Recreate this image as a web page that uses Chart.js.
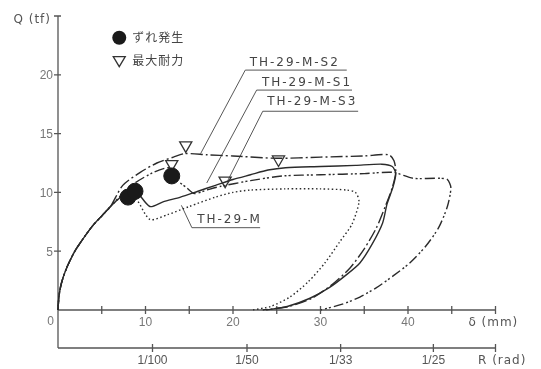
<!DOCTYPE html>
<html lang="ja">
<head>
    <meta charset="UTF-8">
    <title>TH-29-M  Q - δ</title>
    <script src="https://cdn.jsdelivr.net/npm/chart.js"></script>
    <style>
        body { margin: 0; background: #fff; }
    </style>
</head>
<body>
    <canvas id="myChart" width="541" height="369"></canvas>

    <script>
        // common envelope of all specimens, delta (mm) / Q (tf)
        const envDelta = [0, 0.1, 0.3, 0.6, 1, 1.5, 2, 3, 4, 5, 6];
        const envQ     = [0, 1.1, 2.0, 2.8, 3.6, 4.4, 5.1, 6.2, 7.2, 8.0, 8.8];

        // TH-29-M (dotted)
        const mDelta = [7, 8, 9, 10.5, 12.5, 15, 18, 20, 22, 26, 30, 33, 34, 34.4, 33.6, 32.2, 30.5, 28.6, 26.5, 24.3, 22.2];
        const mQ     = [9.5, 10.0, 9.4, 7.7, 8.1, 8.8, 9.6, 10.0, 10.2, 10.3, 10.3, 10.2, 10.0, 9.2, 7.3, 5.8, 4.0, 2.4, 1.1, 0.3, 0];

        // TH-29-M-S1 (solid)
        const s1Delta = [7, 8, 8.8, 10.5, 12, 14, 16, 18, 20, 22, 24, 26, 30, 34, 37, 38.2, 38.6, 38.3, 37.6, 37.1, 35.9, 34.5, 32.8, 31.0, 28.8, 26.2, 23.8];
        const s1Q     = [9.5, 10.0, 10.2, 8.8, 9.2, 9.6, 10.1, 10.6, 11.1, 11.5, 11.9, 12.1, 12.2, 12.3, 12.4, 12.2, 11.6, 10.5, 9.0, 7.4, 5.6, 4.0, 2.9, 1.9, 1.0, 0.3, 0];

        // TH-29-M-S2 (dash-dot, upper)
        const s2Delta = [7.4, 9.4, 11.3, 13.2, 14.5, 17, 20, 25, 30, 35, 37.8, 38.4, 38.6, 38.2, 37.4, 36.4, 35.0, 33.4, 31.4, 29.0, 26.4, 23.4];
        const s2Q     = [10.6, 11.7, 12.5, 13.0, 13.3, 13.2, 13.1, 12.9, 13.0, 13.1, 13.2, 12.7, 11.7, 10.4, 8.8, 7.0, 5.2, 3.6, 2.2, 1.0, 0.3, 0];

        // TH-29-M-S3 (dash-dot, lower)
        const s3Delta = [7, 8.6, 10.9, 12.8, 13.2, 14.7, 15.6, 17, 18.5, 22, 25.7, 30, 35, 38.3, 40.6, 43.7, 44.5, 44.9, 44.5, 43.5, 42, 40.2, 38.3, 36.4, 34.5, 32.5, 30];
        const s3Q     = [9.6, 10.7, 11.7, 12.1, 11.3, 10.4, 9.9, 10.2, 10.5, 11.0, 11.4, 11.5, 11.6, 11.7, 11.2, 11.2, 11.1, 10.4, 8.8, 7.0, 5.4, 4.0, 2.9, 1.9, 1.1, 0.5, 0];

        // ずれ発生 (filled circles) and 最大耐力 (triangles)
        const slipDelta = [8.0, 8.8, 13.0];
        const slipQ     = [9.6, 10.1, 11.4];
        const maxDelta  = [14.6, 13.0, 19.1, 25.2];
        const maxQ      = [14.0, 12.4, 11.0, 12.8];

        // axes
        const yTickValues = [5, 10, 15, 20];
        const yTickMarks  = [5, 10, 15, 20, 25];
        const xTickValues = [10, 20, 30, 40];
        const xTickMarks  = [5, 10, 15, 20, 25, 30, 35, 40, 45, 50];
        const rLabels     = ['1/100', '1/50', '1/33', '1/25'];
        const rDelta      = [10.8, 21.6, 32.3, 42.9];

        function pts(d, q) {
            return d.map((v, i) => ({ x: v, y: q[i] }));
        }
        function withEnv(d, q) {
            return pts(envDelta.concat(d), envQ.concat(q));
        }

        // specimen callouts, in data units
        const callouts = [
            { text: 'TH-29-M-S2', tx: 21.9, ty: 21.0, ux0: 21.4, ux1: 33.0, uy: 20.4, ex: 16.3, ey: 13.3 },
            { text: 'TH-29-M-S1', tx: 23.3, ty: 19.3, ux0: 22.7, ux1: 33.6, uy: 18.7, ex: 17.0, ey: 10.8 },
            { text: 'TH-29-M-S3', tx: 23.9, ty: 17.7, ux0: 23.4, ux1: 34.3, uy: 16.9, ex: 19.4, ey: 11.0 },
            { text: 'TH-29-M',    tx: 15.9, ty: 7.7,  ux0: 15.3, ux1: 23.1, uy: 7.0,  ex: 14.1, ey: 8.9 }
        ];

        const paperAxes = {
            id: 'paperAxes',
            beforeDatasetsDraw(chart) {
                const { ctx, scales: { x, y } } = chart;
                const x0 = x.getPixelForValue(0), xEnd = x.getPixelForValue(50);
                const y0 = y.getPixelForValue(0), yTop = y.getPixelForValue(25);
                const yR = y0 + 38;
                ctx.save();
                ctx.strokeStyle = '#555';
                ctx.lineWidth = 1.3;
                ctx.beginPath();
                ctx.moveTo(x0, yTop); ctx.lineTo(x0, yR);
                ctx.moveTo(x0, y0); ctx.lineTo(xEnd, y0);
                ctx.moveTo(x0, yR); ctx.lineTo(xEnd, yR);
                yTickMarks.forEach(q => {
                    const p = y.getPixelForValue(q);
                    ctx.moveTo(x0 - 4, p); ctx.lineTo(x0 + 3, p);
                });
                xTickMarks.forEach(d => {
                    const p = x.getPixelForValue(d);
                    ctx.moveTo(p, y0 - 4); ctx.lineTo(p, y0 + 4);
                });
                rDelta.concat([50]).forEach(d => {
                    const p = x.getPixelForValue(d);
                    ctx.moveTo(p, yR - 4); ctx.lineTo(p, yR + 4);
                });
                ctx.stroke();

                // callout leaders
                ctx.strokeStyle = '#444';
                ctx.lineWidth = 0.9;
                ctx.beginPath();
                callouts.forEach(c => {
                    const uy = y.getPixelForValue(c.uy);
                    ctx.moveTo(x.getPixelForValue(c.ux1), uy);
                    ctx.lineTo(x.getPixelForValue(c.ux0), uy);
                    ctx.lineTo(x.getPixelForValue(c.ex), y.getPixelForValue(c.ey));
                });
                ctx.stroke();
                ctx.restore();
            },
            afterDraw(chart) {
                const { ctx, scales: { x, y } } = chart;
                const x0 = x.getPixelForValue(0);
                const y0 = y.getPixelForValue(0), yTop = y.getPixelForValue(25);
                const yR = y0 + 38;
                ctx.save();
                ctx.textBaseline = 'middle';

                // axis numbers
                ctx.fillStyle = '#777';
                ctx.font = '12px "Liberation Sans", sans-serif';
                ctx.textAlign = 'right';
                yTickValues.forEach(q => ctx.fillText(String(q), x0 - 5, y.getPixelForValue(q) + 1));
                ctx.fillText('0', x0 - 4, y0 + 12);
                ctx.textAlign = 'center';
                xTickValues.forEach(d => ctx.fillText(String(d), x.getPixelForValue(d), y0 + 13));
                ctx.fillStyle = '#555';
                rLabels.forEach((t, i) => ctx.fillText(t, x.getPixelForValue(rDelta[i]), yR + 13));

                // axis titles
                ctx.fillStyle = '#555';
                ctx.textAlign = 'left';
                ctx.font = '12px "DejaVu Sans", sans-serif';
                ctx.letterSpacing = '1px';
                ctx.fillText('δ (mm)', x.getPixelForValue(46.9), y0 + 13);
                ctx.fillText('R (rad)', x.getPixelForValue(48.0), yR + 13);
                ctx.textAlign = 'right';
                ctx.fillText('Q (tf)', x0 - 7, yTop + 4);

                // callout texts
                ctx.fillStyle = '#444';
                ctx.textAlign = 'left';
                ctx.letterSpacing = '2px';
                callouts.forEach(c => ctx.fillText(c.text, x.getPixelForValue(c.tx), y.getPixelForValue(c.ty)));

                // legend
                ctx.letterSpacing = '1px';
                ctx.font = '12px "Noto Sans CJK JP", sans-serif';
                const lx = x.getPixelForValue(7.0);
                const ly1 = y.getPixelForValue(23.15), ly2 = y.getPixelForValue(21.2);
                ctx.fillStyle = '#1a1a1a';
                ctx.beginPath();
                ctx.arc(lx, ly1, 7, 0, Math.PI * 2);
                ctx.fill();
                ctx.strokeStyle = '#333';
                ctx.lineWidth = 1.3;
                ctx.beginPath();
                ctx.moveTo(lx - 6, ly2 - 4);
                ctx.lineTo(lx + 6, ly2 - 4);
                ctx.lineTo(lx, ly2 + 6);
                ctx.closePath();
                ctx.stroke();
                ctx.fillStyle = '#444';
                ctx.fillText('ずれ発生', lx + 13, ly1);
                ctx.fillText('最大耐力', lx + 13, ly2);
                ctx.restore();
            }
        };

        const line = {
            showLine: true,
            pointRadius: 0,
            fill: false,
            tension: 0.25,
            borderColor: '#2b2b2b',
            borderWidth: 1.4,
            clip: false
        };

        const ctx = document.getElementById('myChart').getContext('2d');
        const myChart = new Chart(ctx, {
            type: 'scatter',
            data: {
                datasets: [
                    {
                        label: 'ずれ発生',
                        data: pts(slipDelta, slipQ),
                        pointStyle: 'circle',
                        pointRadius: 8,
                        backgroundColor: '#1a1a1a',
                        borderColor: '#1a1a1a',
                        clip: false
                    },
                    {
                        label: '最大耐力',
                        data: pts(maxDelta, maxQ),
                        pointStyle: 'triangle',
                        rotation: 180,
                        pointRadius: 7,
                        backgroundColor: 'rgba(255,255,255,0)',
                        borderColor: '#333',
                        borderWidth: 1.3,
                        clip: false
                    },
                    Object.assign({ label: 'TH-29-M-S2', data: withEnv(s2Delta, s2Q), borderDash: [12, 3, 2, 3] }, line),
                    Object.assign({ label: 'TH-29-M-S1', data: withEnv(s1Delta, s1Q) }, line),
                    Object.assign({ label: 'TH-29-M-S3', data: withEnv(s3Delta, s3Q), borderDash: [10, 3, 2, 2, 2, 3] }, line),
                    Object.assign({ label: 'TH-29-M', data: withEnv(mDelta, mQ), borderDash: [1.5, 2.5], borderColor: '#555' }, line)
                ]
            },
            options: {
                responsive: false,
                animation: false,
                layout: { padding: { left: 58, right: 45.5, top: 16, bottom: 59 } },
                scales: {
                    x: { type: 'linear', min: 0, max: 50, display: false },
                    y: { min: 0, max: 25, display: false }
                },
                plugins: {
                    legend: { display: false },
                    tooltip: { enabled: false }
                }
            },
            plugins: [paperAxes]
        });
    </script>
</body>
</html>
